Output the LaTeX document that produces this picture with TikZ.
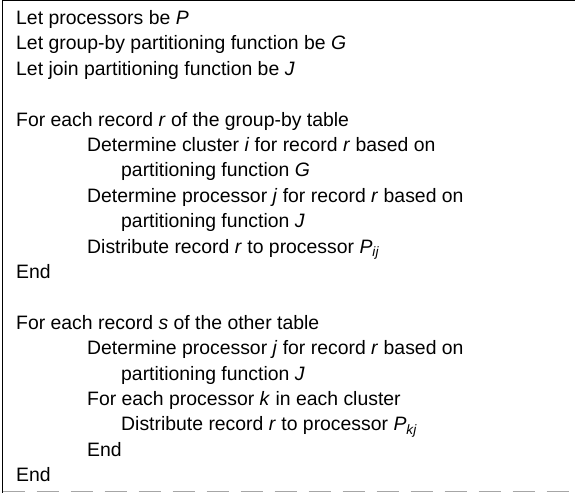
\documentclass[tikz,border=0pt]{standalone}
\usepackage{fontspec}
\setmainfont{Liberation Sans}
\begin{document}
\begin{tikzpicture}[x=1pt,y=-1pt,
  ln/.style={anchor=base west,inner sep=0pt,font=\fontsize{19.4}{23}\selectfont},
  frame/.style={line width=1.3pt,black},
  lowframe/.style={line width=1.2pt,black!35,dash pattern=on 22pt off 12pt}]
\useasboundingbox (0,0) rectangle (575,493);
\fill[white] (0,0) rectangle (575,493);
\coordinate (tl) at (2.5,0.8);
\coordinate (tr) at (575,0.8);
\coordinate (bl) at (2.5,493);
\coordinate (bll) at (2.5,491.5);
\coordinate (brr) at (575,491.5);
\draw[frame] (tr) -- (tl) -- (bl);
\draw[lowframe] (bll) -- (brr);
\node[ln] (l1)  at (16,24.5)  {Let processors be \textit{P}};
\node[ln] (l2)  at (16,49.9)  {Let group-by partitioning function be \textit{G}};
\node[ln] (l3)  at (16,75.3)  {Let join partitioning function be \textit{J}};
\node[ln] (l5)  at (16,126.1) {For each record \textit{r} of the group-by table};
\node[ln] (l6)  at (87,151.5) {Determine cluster \textit{i} for record \textit{r} based on};
\node[ln] (l7)  at (121,176.9){partitioning function \textit{G}};
\node[ln] (l8)  at (87,202.3) {Determine processor \textit{j} for record \textit{r} based on};
\node[ln] (l9)  at (121,227.7){partitioning function \textit{J}};
\node[ln] (l10) at (87,253.1) {Distribute record \textit{r} to processor \textit{P}\textsubscript{\textit{ij}}};
\node[ln] (l11) at (16,278.5) {End};
\node[ln] (l13) at (16,329.3) {For each record \textit{s} of the other table};
\node[ln] (l14) at (87,354.7) {Determine processor \textit{j} for record \textit{r} based on};
\node[ln] (l15) at (121,380.1){partitioning function \textit{J}};
\node[ln] (l16) at (87,405.5) {For each processor \textit{k} in each cluster};
\node[ln] (l17) at (121,430.9){Distribute record \textit{r} to processor \textit{P}\textsubscript{\textit{kj}}};
\node[ln] (l18) at (87,456.3) {End};
\node[ln] (l19) at (16,481.7) {End};
\end{tikzpicture}
\end{document}
